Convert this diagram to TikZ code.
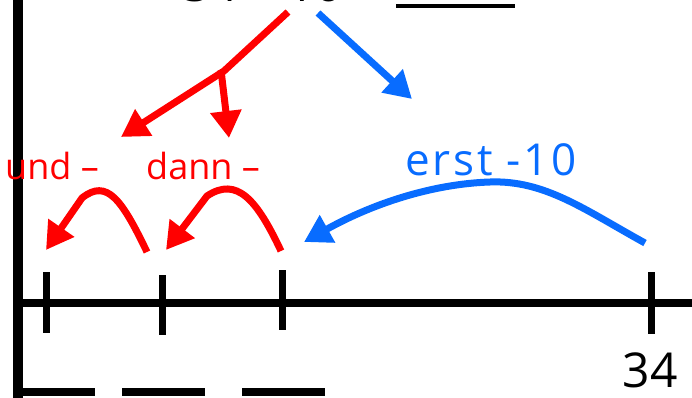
\documentclass[tikz,border=0pt]{standalone}
\usepackage{fontspec}
\setmainfont{Open Sans}
\usetikzlibrary{arrows.meta}
\definecolor{myred}{RGB}{255,0,0}
\definecolor{myblue}{RGB}{8,108,255}
\begin{document}
\begin{tikzpicture}[x=1pt,y=-1pt,
  axis/.style={line width=10pt,black},
  numline/.style={line width=8pt,black},
  tick/.style={line width=7pt,black},
  blankline/.style={line width=8pt,black},
  redarr/.style={line width=7pt,myred,-{Triangle[length=27pt,width=30pt]}},
  bluearr/.style={line width=7pt,myblue,-{Triangle[length=27pt,width=30pt]}},
  redlbl/.style={text=myred,font=\fontsize{36}{40}\selectfont,inner sep=0pt},
  bluelbl/.style={text=myblue,font=\fontsize{44}{48}\selectfont\addfontfeature{LetterSpace=6},inner sep=0pt},
  numlbl/.style={text=black,font=\fontsize{48}{52}\selectfont,inner sep=0pt}]
\useasboundingbox (0,0) rectangle (692,398);
\begin{scope}
\clip (0,0) rectangle (692,398);
% top equation (cropped)
\node[numlbl,anchor=base west] (eq) at (183,1.5) {34 – 16 =};
\coordinate (bl1) at (396,6); \coordinate (bl2) at (515,6);
\draw[line width=4pt] (bl1) -- (bl2);
% axes
\coordinate (vtop) at (18,0); \coordinate (vbot) at (18,398);
\draw[axis] (vtop) -- (vbot);
\coordinate (hl) at (18,303); \coordinate (hr) at (692,303);
\draw[numline] (hl) -- (hr);
% ticks
\coordinate (t1a) at (46,272); \coordinate (t1b) at (46,333);
\coordinate (t2a) at (162,275); \coordinate (t2b) at (162,335);
\coordinate (t3a) at (282,270); \coordinate (t3b) at (282,330);
\coordinate (t4a) at (651,272); \coordinate (t4b) at (651,334);
\draw[tick] (t1a) -- (t1b);
\draw[tick] (t2a) -- (t2b);
\draw[tick] (t3a) -- (t3b);
\draw[tick] (t4a) -- (t4b);
% bottom blanks
\coordinate (b1a) at (14,392); \coordinate (b1b) at (95,392);
\coordinate (b2a) at (122,392); \coordinate (b2b) at (205,392);
\coordinate (b3a) at (242,392); \coordinate (b3b) at (325,392);
\draw[blankline] (b1a) -- (b1b);
\draw[blankline] (b2a) -- (b2b);
\draw[blankline] (b3a) -- (b3b);
% red split arrow
\coordinate (rs) at (288,12);
\coordinate (rj) at (224,71);
\coordinate (rt1) at (121,137);
\coordinate (rj2) at (221,70);
\coordinate (rt2) at (229,138);
\draw[redarr] (rs) -- (rj) -- (rt1);
\draw[redarr] (rj2) -- (rt2);
% blue arrow
\coordinate (bs) at (318,13);
\coordinate (bt) at (412,99);
\draw[bluearr] (bs) -- (bt);
% labels
\node[redlbl,anchor=west] (und) at (5,166) {und –};
\node[redlbl,anchor=west] (dann) at (146,166) {dann –};
\node[bluelbl,anchor=center] (erst) at (491,160) {erst -10};
% red hops
\coordinate (h1s) at (147,252); \coordinate (h1t) at (46,250);
\coordinate (h2s) at (281,251); \coordinate (h2t) at (166,250);
\draw[redarr] (h1s) .. controls (122,200) and (107,178) .. (82,198) -- (h1t);
\draw[redarr] (h2s) .. controls (257,200) and (237,176) .. (207,196) -- (h2t);
% blue hop
\coordinate (ks) at (645,243); \coordinate (kt) at (304,242);
\draw[bluearr] (ks) .. controls (585,210) and (545,180) .. (490,182) .. controls (430,184) and (370,205) .. (kt);
\end{scope}
\node[numlbl,anchor=center] (n34) at (650,370) {34};
\end{tikzpicture}
\end{document}
